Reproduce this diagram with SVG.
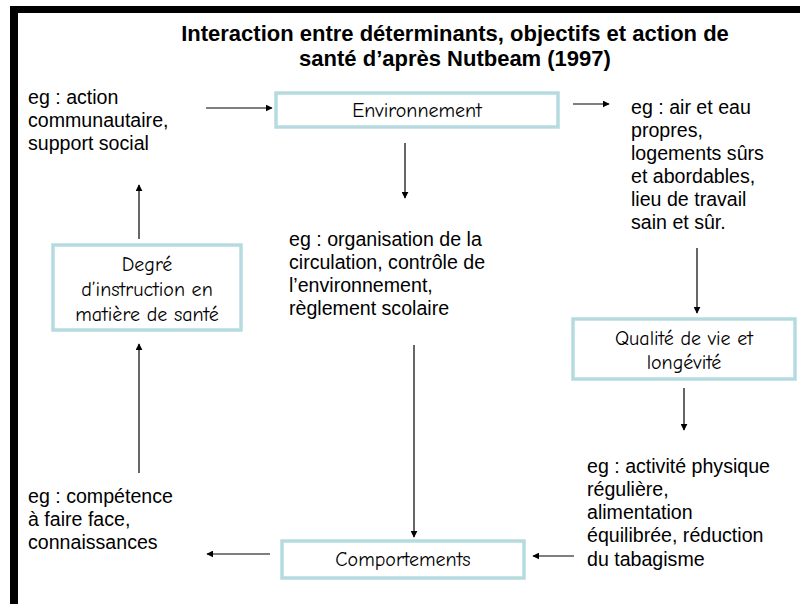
<svg xmlns="http://www.w3.org/2000/svg" width="800" height="604" viewBox="0 0 800 604">
<style>
.t{font-family:"Liberation Sans",Arial,sans-serif;font-size:19.6px;fill:#000}
.ti{font-family:"Liberation Sans",Arial,sans-serif;font-size:22px;font-weight:bold;fill:#000;text-anchor:middle}
.b{fill:#fff;stroke:#b5dbe0;stroke-width:3.5}
.bl{font-family:"Comic Neue","DejaVu Sans",sans-serif;font-size:20px;fill:#000;text-anchor:middle}
.c line{stroke:#000;stroke-width:1.2;marker-end:url(#a)}
</style>
<defs>
<marker id="a" viewBox="0 0 10 10" refX="9" refY="5" markerWidth="7" markerHeight="7" markerUnits="userSpaceOnUse" orient="auto">
<path d="M0,0 L10,5 L0,10 z" fill="#000"/>
</marker>
</defs>
<rect width="800" height="604" fill="#fff"/>
<rect x="10" y="6" width="790" height="7" fill="#000"/>
<rect x="10" y="6" width="8" height="598" fill="#000"/>
<g id="title">
<text class="ti" x="455" y="41">Interaction entre déterminants, objectifs et action de</text>
<text class="ti" x="455" y="66">santé d’après Nutbeam (1997)</text>
</g>
<g id="environnement">
<rect class="b" x="276" y="93" width="282" height="34"/>
<text class="bl" x="417" y="117">Environnement</text>
</g>
<g id="degre">
<rect class="b" x="53" y="245" width="188" height="85"/>
<text class="bl" x="147" y="271">Degré</text>
<text class="bl" x="147" y="296">d’instruction en</text>
<text class="bl" x="147" y="321">matière de santé</text>
</g>
<g id="qualite">
<rect class="b" x="573" y="319" width="222" height="60"/>
<text class="bl" x="684" y="345">Qualité de vie et</text>
<text class="bl" x="684" y="369">longévité</text>
</g>
<g id="comportements">
<rect class="b" x="282" y="541" width="242" height="37"/>
<text class="bl" x="403" y="566">Comportements</text>
</g>
<g id="ex-action">
<text class="t" x="28" y="104">eg : action</text>
<text class="t" x="28" y="127">communautaire,</text>
<text class="t" x="28" y="150">support social</text>
</g>
<g id="ex-air">
<text class="t" x="631" y="114">eg : air et eau</text>
<text class="t" x="631" y="137">propres,</text>
<text class="t" x="631" y="160">logements sûrs</text>
<text class="t" x="631" y="183">et abordables,</text>
<text class="t" x="631" y="206">lieu de travail</text>
<text class="t" x="631" y="229">sain et sûr.</text>
</g>
<g id="ex-organisation">
<text class="t" x="289" y="246">eg : organisation de la</text>
<text class="t" x="289" y="269">circulation, contrôle de</text>
<text class="t" x="289" y="292">l’environnement,</text>
<text class="t" x="289" y="315">règlement scolaire</text>
</g>
<g id="ex-activite">
<text class="t" x="587" y="473">eg : activité physique</text>
<text class="t" x="587" y="496">régulière,</text>
<text class="t" x="587" y="519">alimentation</text>
<text class="t" x="587" y="542">équilibrée, réduction</text>
<text class="t" x="587" y="566">du tabagisme</text>
</g>
<g id="ex-competence">
<text class="t" x="28" y="503">eg : compétence</text>
<text class="t" x="28" y="526">à faire face,</text>
<text class="t" x="28" y="549">connaissances</text>
</g>
<g class="c" id="connectors">
<line x1="206" y1="108" x2="272" y2="108"/>
<line x1="573" y1="104" x2="609" y2="104"/>
<line x1="405" y1="143" x2="405" y2="198"/>
<line x1="414" y1="345" x2="414" y2="537"/>
<line x1="270" y1="554" x2="207" y2="554"/>
<line x1="574" y1="556" x2="533" y2="556"/>
<line x1="139" y1="473" x2="139" y2="344"/>
<line x1="139" y1="239" x2="139" y2="185"/>
<line x1="697" y1="248" x2="697" y2="313"/>
<line x1="684" y1="388" x2="684" y2="430"/>
</g>
</svg>
